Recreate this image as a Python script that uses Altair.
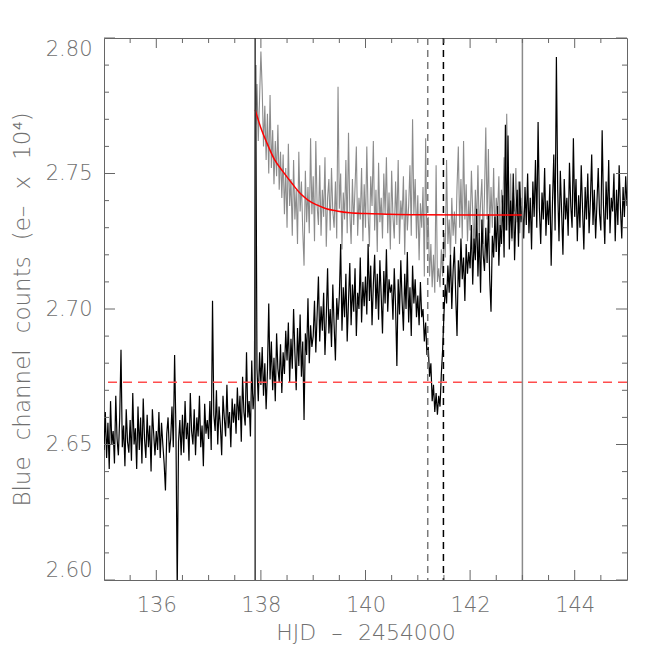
import altair as alt
import numpy as np
import pandas as pd

# ---------------- data ----------------
black_t0, black_step = 135.0, 0.025
black_vals = [
    2.648, 2.662, 2.645, 2.658, 2.641, 2.666, 2.650, 2.655, 2.643, 2.668, 2.652, 2.646, 2.660, 2.685, 2.649, 2.657, 2.642, 2.663, 2.651, 2.647,
    2.659, 2.644, 2.669, 2.650, 2.656, 2.641, 2.664, 2.648, 2.660, 2.643, 2.667, 2.652, 2.645, 2.661, 2.649, 2.657, 2.640, 2.663, 2.654, 2.646,
    2.655, 2.648, 2.662, 2.645, 2.658, 2.650, 2.643, 2.633, 2.654, 2.660, 2.647, 2.652, 2.664, 2.649, 2.683, 2.656, 2.596, 2.651, 2.659, 2.646,
    2.661, 2.647, 2.666, 2.652, 2.658, 2.644, 2.669, 2.655, 2.650, 2.663, 2.646, 2.660, 2.653, 2.668, 2.649, 2.657, 2.642, 2.665, 2.654, 2.659,
    2.652, 2.666, 2.648, 2.703, 2.661, 2.655, 2.670, 2.650, 2.664, 2.657, 2.646, 2.668, 2.660, 2.653, 2.672, 2.656, 2.662, 2.649, 2.667, 2.658,
    2.665, 2.654, 2.671, 2.659, 2.668, 2.651, 2.675, 2.662, 2.657, 2.684, 2.660, 2.666, 2.653, 2.681, 2.663, 2.669, 2.790, 2.678, 2.666, 2.684,
    2.672, 2.686, 2.668, 2.680, 2.663, 2.677, 2.702, 2.674, 2.688, 2.670, 2.682, 2.666, 2.691, 2.678, 2.673, 2.687, 2.669, 2.684, 2.676, 2.692,
    2.681, 2.695, 2.673, 2.689, 2.678, 2.700, 2.684, 2.670, 2.693, 2.679, 2.698, 2.675, 2.688, 2.659, 2.691, 2.683, 2.704, 2.680, 2.694, 2.686,
    2.690, 2.703, 2.684, 2.698, 2.712, 2.688, 2.701, 2.692, 2.706, 2.683, 2.697, 2.715, 2.691, 2.700, 2.686, 2.709, 2.694, 2.681, 2.704, 2.696,
    2.705, 2.724, 2.692, 2.708, 2.697, 2.713, 2.688, 2.703, 2.717, 2.694, 2.709, 2.699, 2.715, 2.690, 2.706, 2.700, 2.719, 2.695, 2.710, 2.701,
    2.712, 2.698, 2.724, 2.703, 2.716, 2.694, 2.709, 2.720, 2.700, 2.713, 2.696, 2.718, 2.705, 2.691, 2.714, 2.702, 2.722, 2.699, 2.711, 2.706,
    2.709, 2.696, 2.715, 2.701, 2.679, 2.711, 2.698, 2.718, 2.703, 2.692, 2.713, 2.700, 2.721, 2.695, 2.708, 2.690, 2.716, 2.702, 2.711, 2.697,
    2.705, 2.694, 2.710, 2.697, 2.700, 2.688, 2.695, 2.683, 2.686, 2.675, 2.680, 2.666, 2.672, 2.662, 2.669, 2.661, 2.668, 2.664, 2.676, 2.685,
    2.698, 2.709, 2.702, 2.716, 2.706, 2.720, 2.700, 2.714, 2.723, 2.705, 2.690, 2.718, 2.708, 2.726, 2.711, 2.719, 2.703, 2.724, 2.713, 2.721,
    2.715, 2.731, 2.709, 2.726, 2.718, 2.737, 2.712, 2.728, 2.706, 2.733, 2.720, 2.714, 2.730, 2.717, 2.735, 2.711, 2.699, 2.727, 2.719, 2.734,
    2.721, 2.738, 2.716, 2.731, 2.724, 2.742, 2.719, 2.768, 2.729, 2.764, 2.722, 2.740, 2.726, 2.750, 2.718, 2.735, 2.744, 2.723, 2.747, 2.732,
    2.738, 2.726, 2.745, 2.731, 2.750, 2.728, 2.741, 2.722, 2.747, 2.734, 2.755, 2.730, 2.769, 2.737, 2.724, 2.743, 2.733, 2.752, 2.727, 2.740,
    2.731, 2.746, 2.716, 2.739, 2.757, 2.729, 2.793, 2.744, 2.725, 2.751, 2.736, 2.720, 2.748, 2.733, 2.741, 2.727, 2.754, 2.738, 2.730, 2.763,
    2.734, 2.748, 2.725, 2.742, 2.730, 2.753, 2.737, 2.722, 2.745, 2.733, 2.750, 2.728, 2.740, 2.757, 2.731, 2.744, 2.726, 2.739, 2.752, 2.735,
    2.729, 2.766, 2.738, 2.724, 2.747, 2.733, 2.755, 2.728, 2.741, 2.736, 2.750, 2.725, 2.744, 2.731, 2.753, 2.737, 2.726, 2.745, 2.734, 2.749, 2.738,
]

gray_t0, gray_step = 137.9, 0.025
gray_vals = [
    2.768, 2.783, 2.762, 2.778, 2.795, 2.781, 2.760, 2.775, 2.755, 2.772, 2.750, 2.779, 2.752, 2.766, 2.746, 2.762, 2.749, 2.768, 2.744, 2.758,
    2.741, 2.757, 2.735, 2.752, 2.730, 2.761, 2.738, 2.748, 2.727, 2.755, 2.733, 2.744, 2.724, 2.758, 2.736, 2.747, 2.729, 2.716, 2.751, 2.732,
    2.745, 2.728, 2.763, 2.735, 2.749, 2.725, 2.762, 2.738, 2.731, 2.753, 2.727, 2.744, 2.734, 2.756, 2.723, 2.741, 2.748, 2.729, 2.752, 2.736,
    2.730, 2.747, 2.726, 2.782, 2.737, 2.750, 2.722, 2.743, 2.733, 2.755, 2.728, 2.765, 2.736, 2.724, 2.748, 2.731, 2.745, 2.760, 2.727, 2.741,
    2.733, 2.752, 2.725, 2.746, 2.730, 2.760, 2.735, 2.723, 2.749, 2.738, 2.762, 2.729, 2.744, 2.721, 2.754, 2.732, 2.741, 2.726, 2.750, 2.735,
    2.756, 2.728, 2.743, 2.722, 2.751, 2.734, 2.726, 2.747, 2.731, 2.755, 2.724, 2.740, 2.733, 2.749, 2.720, 2.744, 2.729, 2.738, 2.753, 2.727,
    2.770, 2.735, 2.748, 2.726, 2.742, 2.718, 2.739, 2.730, 2.745, 2.712, 2.763, 2.722, 2.734, 2.712, 2.724, 2.708, 2.720, 2.706, 2.753, 2.710,
    2.715, 2.708, 2.722, 2.712, 2.728, 2.719, 2.755, 2.724, 2.733, 2.719, 2.741, 2.727, 2.736, 2.724, 2.745, 2.760, 2.730, 2.748, 2.726, 2.762,
    2.733, 2.746, 2.725, 2.740, 2.729, 2.751, 2.736, 2.722, 2.744, 2.731, 2.753, 2.727, 2.739, 2.748, 2.724, 2.742, 2.767, 2.733, 2.759, 2.728,
    2.745, 2.730, 2.752, 2.726, 2.741, 2.735, 2.749, 2.723, 2.744, 2.737, 2.756, 2.729, 2.772, 2.740, 2.731, 2.750, 2.725, 2.743, 2.736, 2.752,
    2.732, 2.747, 2.728, 2.741, 2.735,
]

fit_t = [137.89, 138.0, 138.11, 138.25, 138.43, 138.6, 138.75, 138.9, 139.07, 139.25, 139.45, 139.7, 140.0, 140.4, 141.0, 143.0]
fit_v = [2.7735, 2.7668, 2.7615, 2.7555, 2.7505, 2.7462, 2.7427, 2.7402, 2.7384, 2.7370, 2.7362, 2.7355, 2.7352, 2.7350, 2.7348, 2.7347]

baseline_level = 2.673
solid_lines_t = [137.89, 143.0]
solid_lines_c = ["#3a3a3a", "#8a8a8a"]
dashed_lines_t = [141.19, 141.49]
dashed_lines_c = ["#7a7a7a", "#000000"]

x_major = [136, 138, 140, 142, 144]
x_minor = [135.5, 136.5, 137, 137.5, 138.5, 139, 139.5, 140.5, 141, 141.5, 142.5, 143, 143.5, 144.5]
y_major = [2.60, 2.65, 2.70, 2.75, 2.80]
y_minor = [2.61, 2.62, 2.63, 2.64, 2.66, 2.67, 2.68, 2.69, 2.71, 2.72, 2.73, 2.74, 2.76, 2.77, 2.78, 2.79]

# ---------------- frames ----------------
black_df = pd.DataFrame({"t": black_t0 + black_step * np.arange(len(black_vals)), "v": black_vals})
gray_df = pd.DataFrame({"t": gray_t0 + gray_step * np.arange(len(gray_vals)), "v": gray_vals})
fit_df = pd.DataFrame({"t": fit_t, "v": fit_v})

W, H = 523, 542
FONT = "DejaVu Sans"
TXT = "#707070"
AX = "#666666"
SP = "\u2002\u2009"

xs = alt.Scale(domain=[135, 145], nice=False, zero=False)
ys = alt.Scale(domain=[2.60, 2.80], nice=False, zero=False)

xaxis = alt.Axis(values=x_major, format="d", ticks=False, tickSize=0, domain=False, grid=False,
                 labelFont=FONT, labelFontSize=21, labelFontWeight=200, labelColor=TXT, labelPadding=14,
                 labelFlush=False, labelOverlap=False,
                 title="HJD" + SP + "\u2013" + SP + "2454000", titleFont=FONT, titleFontSize=22, titleFontWeight=200,
                 titleColor=TXT, titlePadding=7)
yaxis = alt.Axis(values=y_major, format=".2f", ticks=False, tickSize=0, domain=False, grid=False,
                 labelFont=FONT, labelFontSize=21, labelFontWeight=200, labelColor=TXT, labelPadding=12,
                 labelFlush=True, labelOverlap=False,
                 title="Blue" + SP + "channel" + SP + "counts" + SP + "(e\u2013" + SP + "x" + SP + "10\u2074)",
                 titleFont=FONT, titleFontSize=23,
                 titleFontWeight=200, titleColor=TXT, titlePadding=11)


def X(f="t"):
    return alt.X(f, type="quantitative", scale=xs, axis=xaxis)


def Y(f="v"):
    return alt.Y(f, type="quantitative", scale=ys, axis=yaxis)


gray_line = alt.Chart(gray_df).mark_line(color="#8c8c8c", strokeWidth=1.1, clip=True).encode(x=X(), y=Y())
black_line = alt.Chart(black_df).mark_line(color="#000000", strokeWidth=1.2, clip=True).encode(x=X(), y=Y())
fit_line = alt.Chart(fit_df).mark_line(color="#ff0000", strokeWidth=1.5, interpolate="monotone").encode(x=X(), y=Y())

hline = alt.Chart(pd.DataFrame({"v": [baseline_level]})).mark_rule(
    color="#ff4d4d", strokeWidth=1.5, strokeDash=[9, 6]).encode(y=Y())

vsolid = alt.Chart(pd.DataFrame({"t": solid_lines_t, "c": solid_lines_c})).mark_rule(strokeWidth=1.5).encode(
    x=X(), color=alt.Color("c:N", scale=None))
vdash = alt.Chart(pd.DataFrame({"t": dashed_lines_t, "c": dashed_lines_c})).mark_rule(
    strokeWidth=1.5, strokeDash=[7, 5]).encode(x=X(), color=alt.Color("c:N", scale=None))

xmaj = pd.DataFrame({"t": x_major})
xmin = pd.DataFrame({"t": x_minor})
ymaj = pd.DataFrame({"v": y_major})
ymin = pd.DataFrame({"v": y_minor})

tick_layers = []
for df, L in [(xmaj, 10), (xmin, 5)]:
    tick_layers.append(alt.Chart(df).mark_rule(color=AX, strokeWidth=1).encode(
        x=X(), y=alt.value(H), y2=alt.value(H - L)))
    tick_layers.append(alt.Chart(df).mark_rule(color=AX, strokeWidth=1).encode(
        x=X(), y=alt.value(0), y2=alt.value(L)))
for df, L in [(ymaj, 11), (ymin, 5)]:
    tick_layers.append(alt.Chart(df).mark_rule(color=AX, strokeWidth=1).encode(
        y=Y(), x=alt.value(0), x2=alt.value(L)))
    tick_layers.append(alt.Chart(df).mark_rule(color=AX, strokeWidth=1).encode(
        y=Y(), x=alt.value(W), x2=alt.value(W - L)))

chart = alt.layer(gray_line, black_line, fit_line, hline, vsolid, vdash, *tick_layers).properties(
    width=W, height=H,
    autosize=alt.AutoSizeParams(type="none"),
    padding={"left": 96, "top": 30, "right": 20, "bottom": 76},
    background="white",
).configure_view(stroke=AX, strokeWidth=1)

chart.save("out.html", embed_options={"renderer": "svg", "actions": False})
